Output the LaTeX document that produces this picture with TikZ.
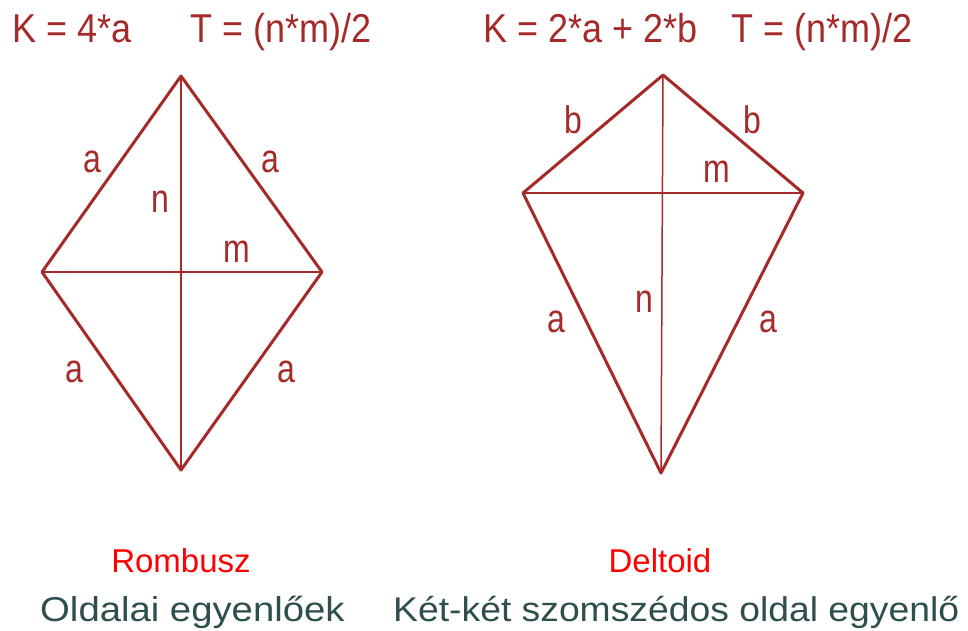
\documentclass[tikz,border=0pt]{standalone}
\usepackage{fontspec}
\setmainfont{Liberation Sans}
\definecolor{dred}{RGB}{165,42,42}
\definecolor{tred}{RGB}{255,0,0}
\definecolor{slate}{RGB}{47,79,79}
\newcommand{\ystr}[2]{\scalebox{1}[#1]{#2}}
\begin{document}
\begin{tikzpicture}[x=1pt,y=-1pt,
  side/.style={draw=dred,line width=3pt,line join=round,line cap=round},
  diag/.style={draw=dred,line width=1.5pt},
  lbl/.style={text=dred,font=\fontsize{32}{32}\selectfont,inner sep=0pt},
  head/.style={text=dred,font=\fontsize{36}{36}\selectfont,inner sep=0pt,anchor=base west},
  title/.style={text=tred,font=\fontsize{33}{33}\selectfont,inner sep=0pt,anchor=base},
  desc/.style={text=slate,inner sep=0pt,anchor=base west}]
\useasboundingbox (0,0) rectangle (968,630);
% rhombus
\coordinate (rt) at (181,76);
\coordinate (rl) at (42,272);
\coordinate (rr) at (322,272);
\coordinate (rb) at (181,470);
\draw[side] (rt) -- (rr) -- (rb) -- (rl) -- cycle;
\draw[diag] (rt) -- (rb);
\draw[diag] (rl) -- (rr);
% deltoid
\coordinate (dt) at (663,75);
\coordinate (dl) at (523,193);
\coordinate (dr) at (803,193);
\coordinate (db) at (661,473);
\draw[side] (dt) -- (dr) -- (db) -- (dl) -- cycle;
\draw[diag] (dt) -- (db);
\draw[diag] (dl) -- (dr);
% labels rhombus
\node[lbl] (ra1) at (92,162) {\ystr{1.25}{a}};
\node[lbl] (ra2) at (270,162) {\ystr{1.25}{a}};
\node[lbl] (rn) at (160,202) {\ystr{1.25}{n}};
\node[lbl] (rm) at (237,252) {\ystr{1.25}{m}};
\node[lbl] (ra3) at (74,372) {\ystr{1.25}{a}};
\node[lbl] (ra4) at (286,372) {\ystr{1.25}{a}};
% labels deltoid
\node[lbl] (db1) at (573,120) {\ystr{1.2}{b}};
\node[lbl] (db2) at (752,120) {\ystr{1.2}{b}};
\node[lbl] (dm) at (717,172) {\ystr{1.25}{m}};
\node[lbl] (dn) at (644,302) {\ystr{1.25}{n}};
\node[lbl] (da1) at (556,322) {\ystr{1.25}{a}};
\node[lbl] (da2) at (768,322) {\ystr{1.25}{a}};
% headers
\node[head] (hk1) at (12,42) {\ystr{1.12}{K = 4*a}};
\node[head] (ht1) at (190,42) {\ystr{1.12}{T = (n*m)/2}};
\node[head] (hk2) at (483,42) {\ystr{1.12}{K = 2*a + 2*b}};
\node[head] (ht2) at (731,42) {\ystr{1.12}{T = (n*m)/2}};
% bottom
\node[title] (t1) at (181,572) {Rombusz};
\node[title] (t2) at (660,572) {Deltoid};
\node[desc,font=\fontsize{38.3}{38}\selectfont] (d1) at (40,621) {\ystr{0.9}{Oldalai egyenlőek}};
\node[desc,font=\fontsize{37.3}{37}\selectfont] (d2) at (393,621) {\ystr{0.92}{Két-két szomszédos oldal egyenlő}};
\end{tikzpicture}
\end{document}
